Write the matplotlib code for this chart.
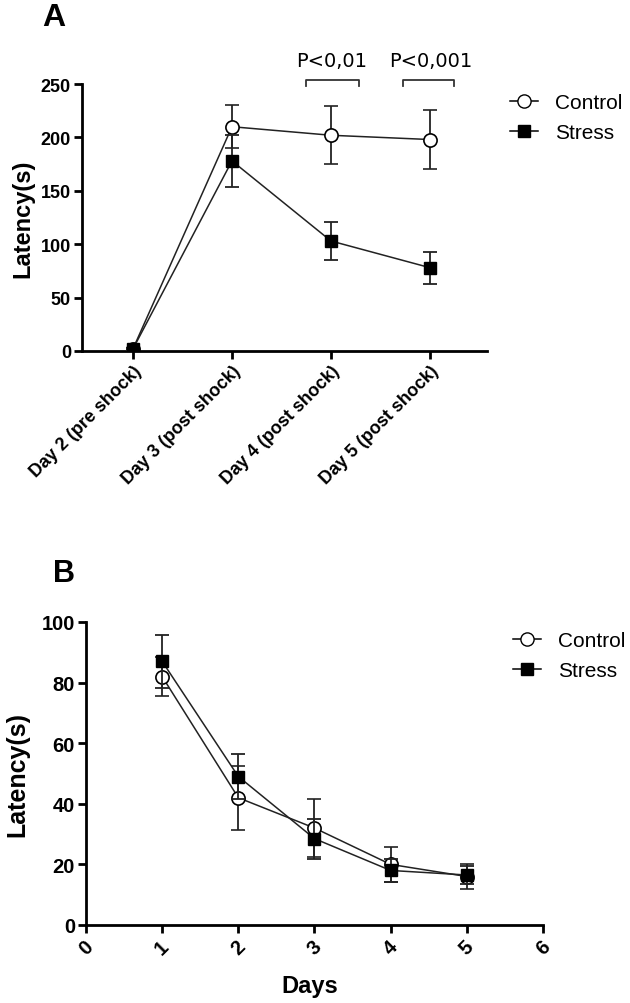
import matplotlib
matplotlib.use("Agg")
import matplotlib.pyplot as plt
from matplotlib.lines import Line2D

# ---- Panel A data ----
days_a = ["Day 2 (pre shock)", "Day 3 (post shock)", "Day 4 (post shock)", "Day 5 (post shock)"]
ctrl_a = [2, 210, 202, 198]
ctrl_a_err = [1, 20, 27, 28]
stress_a = [2, 178, 103, 78]
stress_a_err = [1, 24, 18, 15]
a_yticks = [0, 50, 100, 150, 200, 250]
pvals = ["P<0,01", "P<0,001"]
pval_idx = [2, 3]

# ---- Panel B data ----
days_b = [1, 2, 3, 4, 5]
ctrl_b = [82, 42, 32, 20, 16]
ctrl_b_err = [6.5, 10.5, 9.6, 5.7, 4]
stress_b = [87, 49, 28.5, 18, 16.5]
stress_b_err = [8.7, 7.4, 6.6, 3.8, 3]
b_xticks = [0, 1, 2, 3, 4, 5, 6]
b_yticks = [0, 20, 40, 60, 80, 100]

plt.rcParams['font.family'] = ['Liberation Sans', 'DejaVu Sans']

fig = plt.figure(figsize=(6.3, 10.04), dpi=100)

W, H = 630, 1004
def rect(x0, x1, ytop, ybot):
    return [x0 / W, 1 - ybot / H, (x1 - x0) / W, (ybot - ytop) / H]

axA = fig.add_axes(rect(82, 487, 85, 352))
axB = fig.add_axes(rect(86, 543, 623, 926))

ms_c = 9.5
ms_s = 8
lw = 1.1
lc = '#222222'

def style(ax, fs):
    for s in ['top', 'right']:
        ax.spines[s].set_visible(False)
    for s in ['left', 'bottom']:
        ax.spines[s].set_linewidth(2)
    ax.tick_params(direction='out', length=6, width=2, labelsize=fs, pad=2)
    for lbl in ax.get_yticklabels():
        lbl.set_fontweight('bold')

def legend(ax, x_px, y_px):
    handles = [Line2D([], [], color='black', lw=lw, marker='o', ms=ms_c, mfc='white', mec='black'),
               Line2D([], [], color='black', lw=lw, marker='s', ms=ms_s, mfc='black', mec='black')]
    ax.legend(handles, ["Control", "Stress"], loc='upper left',
              bbox_to_anchor=(x_px / W, 1 - y_px / H), bbox_transform=fig.transFigure,
              frameon=False, fontsize=15, handlelength=1.35, handletextpad=0.8,
              labelspacing=0.55, borderpad=0, borderaxespad=0)

# Panel A
xa = list(range(len(days_a)))
axA.errorbar(xa, ctrl_a, yerr=ctrl_a_err, color=lc, lw=lw, marker='o', ms=ms_c,
             mfc='white', mec='black', mew=1.2, capsize=4.7, elinewidth=1.3, capthick=1.3, zorder=3)
axA.errorbar(xa, stress_a, yerr=stress_a_err, color=lc, lw=lw, marker='s', ms=ms_s,
             mfc='black', mec='black', capsize=4.7, elinewidth=1.3, capthick=1.3, zorder=4)
axA.set_xlim(-0.515, 3.576)
axA.set_ylim(0, 250)
axA.set_yticks(a_yticks)
axA.set_xticks(xa)
axA.set_xticklabels(days_a, rotation=45, ha='right', va='top', rotation_mode='anchor',
                    fontsize=14, fontweight='bold')
style(axA, 13)
axA.set_ylabel("Latency(s)", fontsize=17, fontweight='bold', va='center')
axA.yaxis.set_label_coords(-0.147, 0.5)

offsets = [(-0.253, 0.283), (-0.273, 0.242)]
for i, txt, (lo, hi) in zip(pval_idx, pvals, offsets):
    y0, y1 = 248.5, 254
    axA.plot([i + lo, i + lo, i + hi, i + hi], [y0, y1, y1, y0], color='#333333',
             lw=1.3, clip_on=False)
    axA.text(i + 0.01, 267, txt, ha='center', va='baseline', fontsize=14,
             family=['DejaVu Sans'], clip_on=False)

legend(axA, 510, 94)

fig.text(42 / W, 1 - 26 / H, "A", fontsize=23, fontweight='bold')

# Panel B
axB.errorbar(days_b, ctrl_b, yerr=ctrl_b_err, color=lc, lw=lw, marker='o', ms=ms_c,
             mfc='white', mec='black', mew=1.2, capsize=4.7, elinewidth=1.3, capthick=1.3, zorder=3)
axB.errorbar(days_b, stress_b, yerr=stress_b_err, color=lc, lw=lw, marker='s', ms=ms_s,
             mfc='black', mec='black', capsize=4.7, elinewidth=1.3, capthick=1.3, zorder=4)
axB.set_xlim(0, 6)
axB.set_ylim(0, 100)
axB.set_xticks(b_xticks)
axB.set_yticks(b_yticks)
axB.set_xticklabels([str(t) for t in b_xticks], rotation=45, ha='center', va='top',
                    fontsize=14.5, fontweight='bold')
style(axB, 14.5)
axB.set_ylabel("Latency(s)", fontsize=18, fontweight='bold', va='center')
axB.yaxis.set_label_coords(-0.151, 0.5)
axB.set_xlabel("Days", fontsize=17, fontweight='bold', va='baseline')
axB.xaxis.set_label_coords(0.49, -0.222)

legend(axB, 513, 632)

fig.text(53 / W, 1 - 582 / H, "B", fontsize=22, fontweight='bold')

fig.savefig("out.png", dpi=100)
